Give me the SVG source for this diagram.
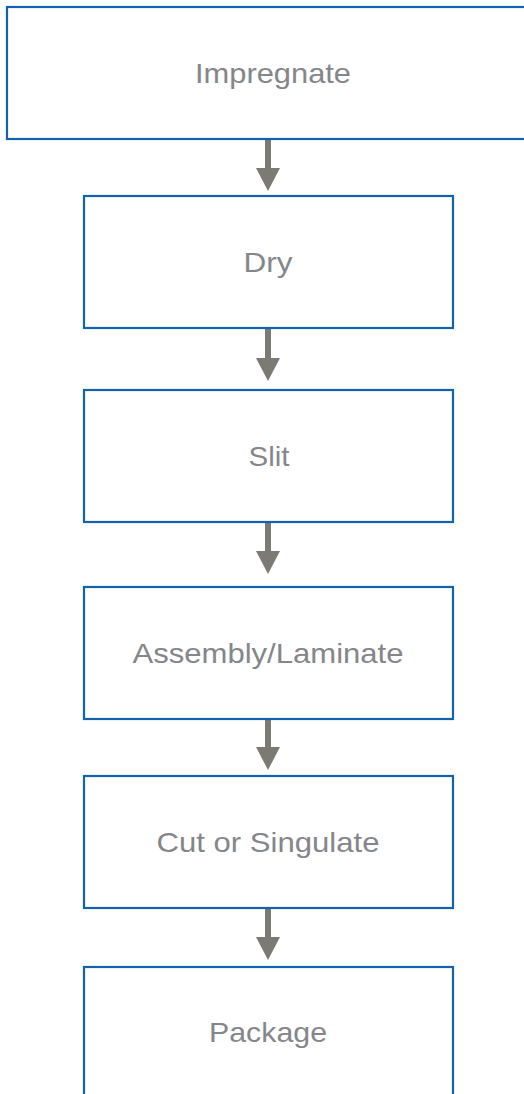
<svg xmlns="http://www.w3.org/2000/svg" width="524" height="1094" viewBox="0 0 524 1094">
<style>
.box{fill:#fff;stroke:#1262ad;stroke-width:2.2}
.lbl{font-family:"Liberation Sans",Arial,sans-serif;font-size:28px;fill:#85868a;text-anchor:middle}
.shaft{stroke:#7b7b73;stroke-width:6}
.head{fill:#7b7b73}
</style>
<rect width="524" height="1094" fill="#fff"/>
<g id="connectors">
<line class="shaft" x1="268" y1="140" x2="268" y2="170"/><polygon class="head" points="256,168 280,168 268,191"/>
<line class="shaft" x1="268" y1="329" x2="268" y2="360"/><polygon class="head" points="256,358 280,358 268,381"/>
<line class="shaft" x1="268" y1="523" x2="268" y2="553"/><polygon class="head" points="256,551 280,551 268,574"/>
<line class="shaft" x1="268" y1="720" x2="268" y2="749"/><polygon class="head" points="256,747 280,747 268,770"/>
<line class="shaft" x1="268" y1="909" x2="268" y2="939"/><polygon class="head" points="256,937 280,937 268,960"/>
</g>
<g id="impregnate"><rect class="box" x="7" y="7" width="540" height="132"/><text class="lbl" x="273" y="83" textLength="156" lengthAdjust="spacingAndGlyphs">Impregnate</text></g>
<g id="dry"><rect class="box" x="84" y="196" width="369" height="132"/><text class="lbl" x="268" y="272" textLength="49" lengthAdjust="spacingAndGlyphs">Dry</text></g>
<g id="slit"><rect class="box" x="84" y="390" width="369" height="132"/><text class="lbl" x="269" y="466" textLength="41" lengthAdjust="spacingAndGlyphs">Slit</text></g>
<g id="assembly"><rect class="box" x="84" y="587" width="369" height="132"/><text class="lbl" x="268" y="663" textLength="271" lengthAdjust="spacingAndGlyphs">Assembly/Laminate</text></g>
<g id="cut"><rect class="box" x="84" y="776" width="369" height="132"/><text class="lbl" x="268" y="852" textLength="223" lengthAdjust="spacingAndGlyphs">Cut or Singulate</text></g>
<g id="package"><rect class="box" x="84" y="967" width="369" height="160"/><text class="lbl" x="268" y="1042" textLength="118" lengthAdjust="spacingAndGlyphs">Package</text></g>
</svg>
